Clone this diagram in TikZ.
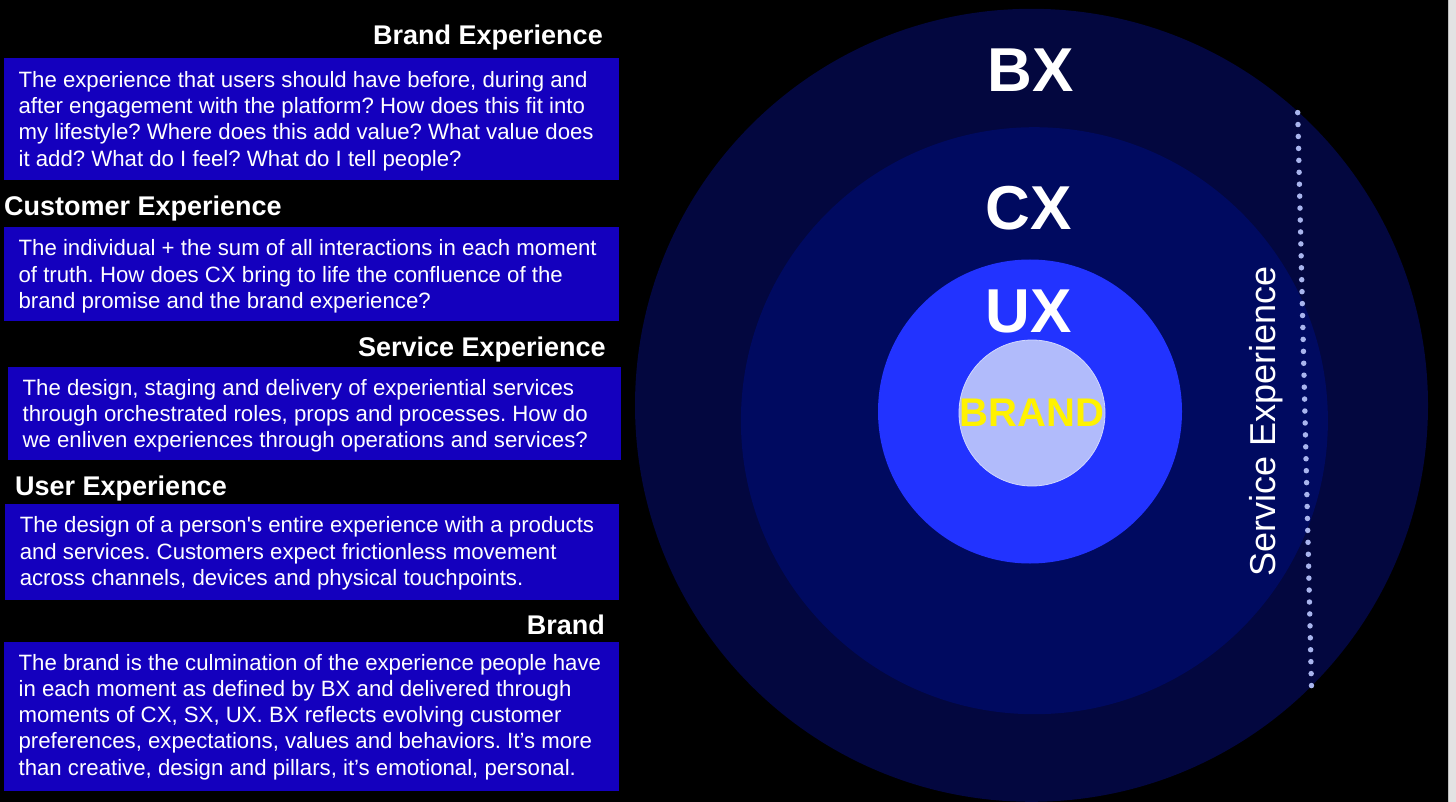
\documentclass[tikz,border=0pt]{standalone}
\usepackage{fontspec}
\setmainfont{Liberation Sans}
\definecolor{outerc}{HTML}{03073F}
\definecolor{cxc}{HTML}{000A60}
\definecolor{uxc}{HTML}{2233FF}
\definecolor{brandc}{HTML}{B1BBFB}
\definecolor{brandline}{HTML}{D2D8FF}
\definecolor{panelc}{HTML}{1400BE}
\definecolor{dotc}{HTML}{A9B5EE}
\definecolor{stripc}{HTML}{E3E3E3}
\definecolor{stripl}{HTML}{BDBDBD}
\tikzset{
  ring/.style={circle, inner sep=0pt, draw=none},
  panel/.style={rectangle, fill=panelc, inner sep=0pt, anchor=north west},
  body/.style={text=white, inner sep=0pt, anchor=north west, align=left, font=\fontsize{22.2}{26.2}\selectfont},
  head/.style={text=white, inner sep=0pt, font=\fontsize{27}{27}\selectfont\bfseries},
  big/.style={text=white, inner sep=0pt, font=\fontsize{62}{62}\selectfont\bfseries},
}
\newcommand{\fs}{\rule{0pt}{18pt}}
\frenchspacing
\begin{document}
\frenchspacing
\begin{tikzpicture}[x=1pt,y=-1pt]
\useasboundingbox (0,0) rectangle (1456,802);
\fill[black] (0,0) rectangle (1456,802);
\fill[stripc] (1448,0) rectangle (1456,802);
\draw[stripl, line width=1pt] (1448.5,0) -- (1448.5,802);

% circles
\node[ring, fill=outerc, minimum size=793pt] (bxc) at (1031.5,405.3) {};
\node[ring, fill=cxc, minimum size=587pt] (cxc) at (1034.4,420.7) {};
\node[ring, fill=uxc, minimum size=304pt] (uxc) at (1030,411.5) {};
\node[ring, fill=brandc, draw=brandline, line width=0.8pt, minimum size=146pt] (brc) at (1032,413) {};

\node[big] (bx) at (1031,70.5) {BX};
\node[big] (cx) at (1028.7,208.4) {CX};
\node[big] (ux) at (1028.5,311) {UX};
\node[text=yellow, inner sep=0pt, font=\fontsize{40}{40}\selectfont\bfseries] (brand) at (1032,412.5) {BRAND};

\node[text=white, inner sep=0pt, rotate=90, anchor=base, font=\fontsize{36}{36}\selectfont] (svc) at (1275,421) {Service Experience};

\coordinate (dtop) at (1297.7,112.6);
\coordinate (dbot) at (1311.5,687);
\draw[dotc, line width=5.5pt, line cap=round, dash pattern=on 0pt off 11.94pt] (dtop) -- (dbot);

% left panels
\node[head, anchor=base east] (h1) at (603,45) {Brand Experience};
\node[panel, minimum width=615pt, minimum height=122pt] (p1) at (4,58) {};
\node[body] (t1) at (18.4,69.3) {\fs The experience that users should have before, during and\\
after engagement with the platform? How does this fit into\\
my lifestyle? Where does this add value? What value does\\
it add? What do I feel? What do I tell people?};

\node[head, anchor=base west] (h2) at (4,216) {Customer Experience};
\node[panel, minimum width=615pt, minimum height=94.5pt] (p2) at (4,226.5) {};
\node[body] (t2) at (18.4,237.7) {\fs The individual + the sum of all interactions in each moment\\
of truth. How does CX bring to life the confluence of the\\
brand promise and the brand experience?};

\node[head, anchor=base east] (h3) at (606,356.7) {Service Experience};
\node[panel, minimum width=613pt, minimum height=93pt] (p3) at (8,367) {};
\node[body] (t3) at (22.4,377) {\fs The design, staging and delivery of experiential services\\
through orchestrated roles, props and processes. How do\\
we enliven experiences through operations and services?};

\node[head, anchor=base west] (h4) at (15,495) {User Experience};
\node[panel, minimum width=614pt, minimum height=96pt] (p4) at (5,503.5) {};
\node[body] (t4) at (19.6,514.7) {\fs The design of a person\textquotesingle s entire experience with a products\\
and services. Customers expect frictionless movement\\
across channels, devices and physical touchpoints.};

\node[head, anchor=base east] (h5) at (605,634) {Brand};
\node[panel, minimum width=615pt, minimum height=149.3pt] (p5) at (4,641.7) {};
\node[body] (t5) at (18.4,652) {\fs The brand is the culmination of the experience people have\\
in each moment as defined by BX and delivered through\\
moments of CX, SX, UX. BX reflects evolving customer\\
preferences, expectations, values and behaviors. It’s more\\
than creative, design and pillars, it’s emotional, personal.};
\end{tikzpicture}
\end{document}
